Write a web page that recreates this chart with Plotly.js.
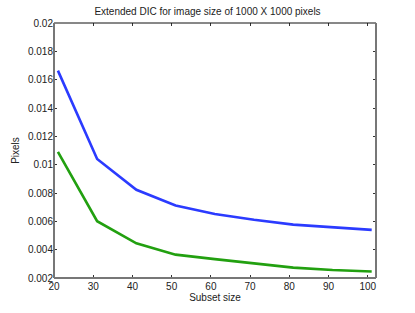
<!DOCTYPE html>
<html><head><meta charset="utf-8">
<script src="https://cdn.plot.ly/plotly-3.0.1.min.js"></script>
<style>html,body{margin:0;padding:0;background:#fff}#c{width:415px;height:313px}</style>
</head><body><div id="c"></div>
<script>
const subsetSize = [21, 31, 41, 51, 61, 71, 81, 91, 101];
const blueSeries = [0.01664, 0.01040, 0.00823, 0.00712, 0.00652, 0.00611, 0.00577, 0.00556, 0.00540];
const greenSeries = [0.01091, 0.00601, 0.00445, 0.00365, 0.00333, 0.00301, 0.00273, 0.00256, 0.00246];
const xTicks = [20, 30, 40, 50, 60, 70, 80, 90, 100];
const yTicks = [0.002, 0.004, 0.006, 0.008, 0.01, 0.012, 0.014, 0.016, 0.018, 0.02];
const yTickText = ['0.002','0.004','0.006','0.008','0.01','0.012','0.014','0.016','0.018','0.02'];

const font = {family: 'Liberation Sans, Arial, sans-serif', size: 10, color: '#222'};
const data = [
  {x: subsetSize, y: blueSeries, type: 'scatter', mode: 'lines', line: {color: '#2b3bff', width: 2.6}, hoverinfo: 'none'},
  {x: subsetSize, y: greenSeries, type: 'scatter', mode: 'lines', line: {color: '#22a010', width: 2.6}, hoverinfo: 'none'}
];
const layout = {
  width: 415, height: 313,
  margin: {l: 54, r: 39, t: 23, b: 35, pad: 0},
  paper_bgcolor: '#fff', plot_bgcolor: '#fff',
  showlegend: false,
  font: font,
  title: {text: 'Extended DIC for image size of 1000 X 1000 pixels', font: {family: font.family, size: 10, color: '#222'}, x: 0.5, xanchor: 'center', y: 0.962, yanchor: 'middle'},
  xaxis: {
    range: [20, 102.1], tickvals: xTicks, ticktext: xTicks.map(String),
    ticks: 'inside', ticklen: 3, tickcolor: '#333', tickwidth: 1,
    showgrid: false, zeroline: false, showline: false, mirror: 'ticks',
    tickfont: font, ticklabelstandoff: 1,
    title: {text: 'Subset size', font: font, standoff: 1}
  },
  yaxis: {
    range: [0.002, 0.02], tickvals: yTicks, ticktext: yTickText,
    ticks: 'inside', ticklen: 3, tickcolor: '#333', tickwidth: 1,
    showgrid: false, zeroline: false, showline: false, mirror: 'ticks',
    tickfont: font,
    title: {text: 'Pixels', font: font, standoff: 6}
  },
  shapes: [
    {type: 'line', xref: 'paper', yref: 'paper', x0: 0, x1: 1, y0: 1, y1: 1, line: {color: '#111', width: 1}},
    {type: 'line', xref: 'paper', yref: 'paper', x0: 0, x1: 1, y0: 0, y1: 0, line: {color: '#777', width: 2}},
    {type: 'line', xref: 'paper', yref: 'paper', x0: 0, x1: 0, y0: 0, y1: 1, line: {color: '#777', width: 2}},
    {type: 'line', xref: 'paper', yref: 'paper', x0: 1, x1: 1, y0: 0, y1: 1, line: {color: '#777', width: 2}}
  ]
};
Plotly.newPlot('c', data, layout, {staticPlot: true, displayModeBar: false});
</script></body></html>
